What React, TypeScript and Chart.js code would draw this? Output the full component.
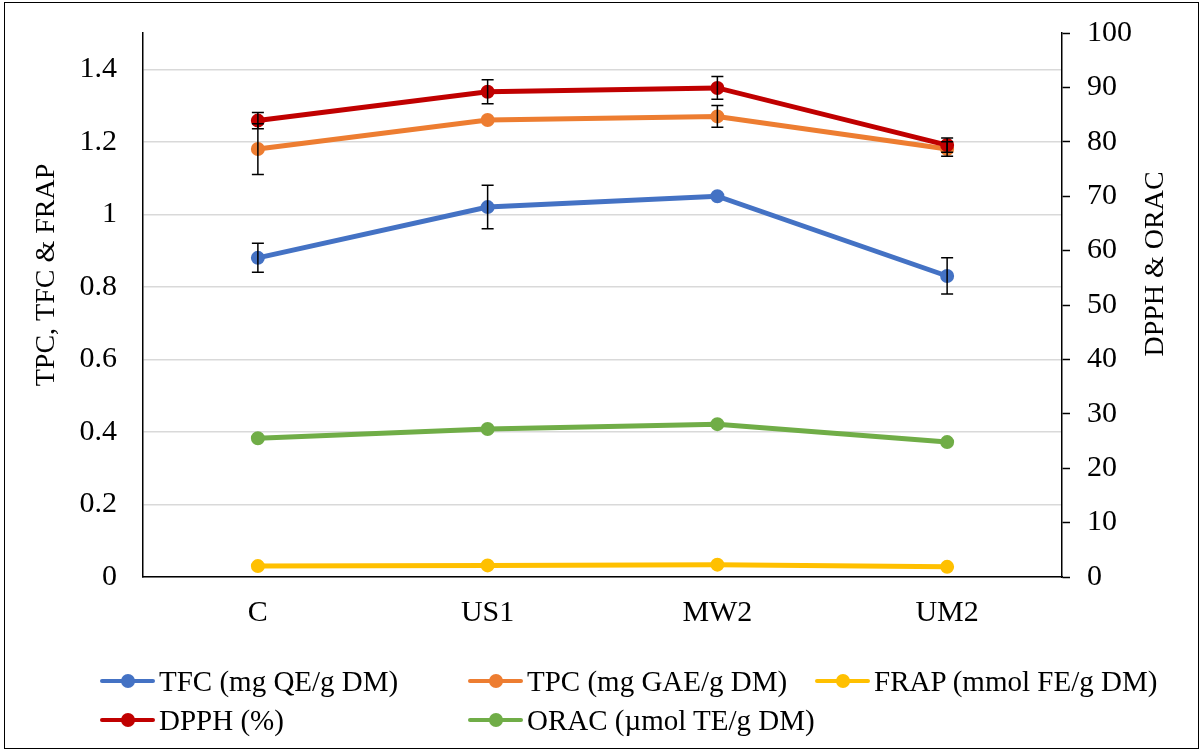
import React, { useEffect, useRef } from "react";
import { Chart, registerables } from "chart.js";

Chart.register(...registerables);

const categories = ["C", "US1", "MW2", "UM2"];
const tfc = [0.88, 1.02, 1.05, 0.83];
const tfcErr = [0.04, 0.06, 0, 0.05];
const tpc = [1.18, 1.26, 1.27, 1.18];
const tpcErr = [0.07, 0, 0.03, 0.02];
const frap = [0.030, 0.032, 0.034, 0.028];
const dpph = [83.9, 89.2, 89.9, 79.4];
const dpphErr = [1.5, 2.2, 2.1, 1.3];
const orac = [25.5, 27.2, 28.1, 24.8];

const leftTitle = "TPC, TFC & FRAP";
const rightTitle = "DPPH & ORAC";

const FONT = '"Liberation Serif", "Times New Roman", serif';

const legendItems = [
  { label: "TFC (mg QE/g DM)", color: "#4472C4", left: 100, top: 681 },
  { label: "TPC (mg GAE/g DM)", color: "#ED7D31", left: 468, top: 681 },
  { label: "FRAP (mmol FE/g DM)", color: "#FFC000", left: 815, top: 681 },
  { label: "DPPH (%)", color: "#C00000", left: 100, top: 720 },
  { label: "ORAC (µmol TE/g DM)", color: "#70AD47", left: 468, top: 720 },
];

const errorBarPlugin = {
  id: "errorBars",
  afterDatasetsDraw(chart: any) {
    const ctx = chart.ctx;
    ctx.save();
    ctx.strokeStyle = "#000";
    ctx.lineWidth = 1.5;
    chart.data.datasets.forEach((ds: any, di: number) => {
      if (!ds.errors) return;
      const meta = chart.getDatasetMeta(di);
      const scale = chart.scales[ds.yAxisID];
      ds.data.forEach((v: number, i: number) => {
        const e = ds.errors[i];
        if (!e) return;
        const x = meta.data[i].x;
        const yt = scale.getPixelForValue(v + e);
        const yb = scale.getPixelForValue(v - e);
        ctx.beginPath();
        ctx.moveTo(x, yt);
        ctx.lineTo(x, yb);
        ctx.moveTo(x - 6, yt);
        ctx.lineTo(x + 6, yt);
        ctx.moveTo(x - 6, yb);
        ctx.lineTo(x + 6, yb);
        ctx.stroke();
      });
    });
    ctx.restore();
  },
};

const titlePlugin = {
  id: "axisTitles",
  afterDraw(chart: any) {
    const ctx = chart.ctx;
    ctx.save();
    ctx.fillStyle = "#000";
    ctx.font = `28px ${FONT}`;
    ctx.textAlign = "center";
    ctx.textBaseline = "middle";
    ctx.translate(47, 275);
    ctx.rotate(-Math.PI / 2);
    ctx.fillText(leftTitle, 0, 0);
    ctx.restore();
    ctx.save();
    ctx.fillStyle = "#000";
    ctx.font = `28px ${FONT}`;
    ctx.textAlign = "center";
    ctx.textBaseline = "middle";
    ctx.translate(1156, 264);
    ctx.rotate(-Math.PI / 2);
    ctx.fillText(rightTitle, 0, 0);
    ctx.restore();
  },
};

function mkDs(label: string, data: number[], color: string, axis: string, order: number, errors?: number[]) {
  return {
    label,
    data,
    borderColor: color,
    backgroundColor: color,
    pointBackgroundColor: color,
    pointBorderColor: color,
    borderWidth: 5,
    pointRadius: 6,
    pointBorderWidth: 2,
    yAxisID: axis,
    order,
    errors,
    tension: 0,
  };
}

export default function App() {
  const ref = useRef<HTMLCanvasElement>(null);
  useEffect(() => {
    if (!ref.current) return;
    const chart = new Chart(ref.current, {
      type: "line",
      data: {
        labels: categories,
        datasets: [
          mkDs("TFC (mg QE/g DM)", tfc, "#4472C4", "y", 4, tfcErr) as any,
          mkDs("TPC (mg GAE/g DM)", tpc, "#ED7D31", "y", 3, tpcErr) as any,
          mkDs("FRAP (mmol FE/g DM)", frap, "#FFC000", "y", 2) as any,
          mkDs("DPPH (%)", dpph, "#C00000", "y1", 0, dpphErr) as any,
          mkDs("ORAC (µmol TE/g DM)", orac, "#70AD47", "y1", 1) as any,
        ],
      },
      options: {
        animation: false,
        responsive: false,
        maintainAspectRatio: false,
        layout: { padding: { top: 33, left: 0, right: 0, bottom: 0 } },
        plugins: { legend: { display: false }, tooltip: { enabled: false }, title: { display: false } },
        scales: {
          x: {
            offset: true,
            grid: { display: false, drawTicks: false },
            border: { display: true, color: "#000", width: 1.5 },
            ticks: { color: "#000", font: { family: FONT, size: 30 }, padding: 18, maxRotation: 0 },
            afterFit: (s: any) => { s.height = 175; s.paddingLeft = 0; s.paddingRight = 0; },
          },
          y: {
            position: "left",
            min: 0,
            max: 1.5,
            ticks: {
              stepSize: 0.2,
              color: "#000",
              padding: 26,
              font: { family: FONT, size: 30 },
              callback: (v: any) => String(Math.round(Number(v) * 10) / 10),
            },
            afterBuildTicks: (s: any) => { s.ticks = s.ticks.filter((t: any) => t.value <= 1.40001); },
            grid: { color: "#D9D9D9", lineWidth: 1.5, drawTicks: false },
            border: { display: true, color: "#000", width: 1.5 },
            afterFit: (s: any) => { s.width = 143; s.paddingTop = 0; s.paddingBottom = 0; },
          },
          y1: {
            position: "right",
            min: 0,
            max: 100,
            ticks: { stepSize: 10, color: "#000", padding: 17, font: { family: FONT, size: 30 } },
            grid: { drawOnChartArea: false, drawTicks: true, tickLength: 8, tickColor: "#000", tickWidth: 1.5 },
            border: { display: true, color: "#000", width: 1.5 },
            afterFit: (s: any) => { s.width = 142; s.paddingTop = 0; s.paddingBottom = 0; },
          },
        },
      } as any,
      plugins: [errorBarPlugin, titlePlugin],
    });
    return () => chart.destroy();
  }, []);

  return (
    <div style={{ position: "absolute", left: 0, top: 0, width: 1204, height: 752, background: "#fff" }}>
      <canvas ref={ref} width={1204} height={752} style={{ position: "absolute", left: 0, top: 0, width: 1204, height: 752 }} />
      <div style={{ position: "absolute", left: 4, top: 2, width: 1193, height: 745, border: "1.5px solid #000", pointerEvents: "none" }} />
      {legendItems.map((it) => (
        <div key={it.label} style={{ position: "absolute", left: it.left, top: it.top - 20, height: 40, display: "flex", alignItems: "center", fontFamily: FONT, fontSize: 29, color: "#000", whiteSpace: "nowrap" }}>
          <span style={{ position: "relative", display: "inline-block", width: 55, height: 4, background: it.color, borderRadius: 2, marginRight: 4 }}>
            <span style={{ position: "absolute", left: 21, top: -5, width: 14, height: 14, borderRadius: 7, background: it.color }} />
          </span>
          <span>{it.label}</span>
        </div>
      ))}
    </div>
  );
}
